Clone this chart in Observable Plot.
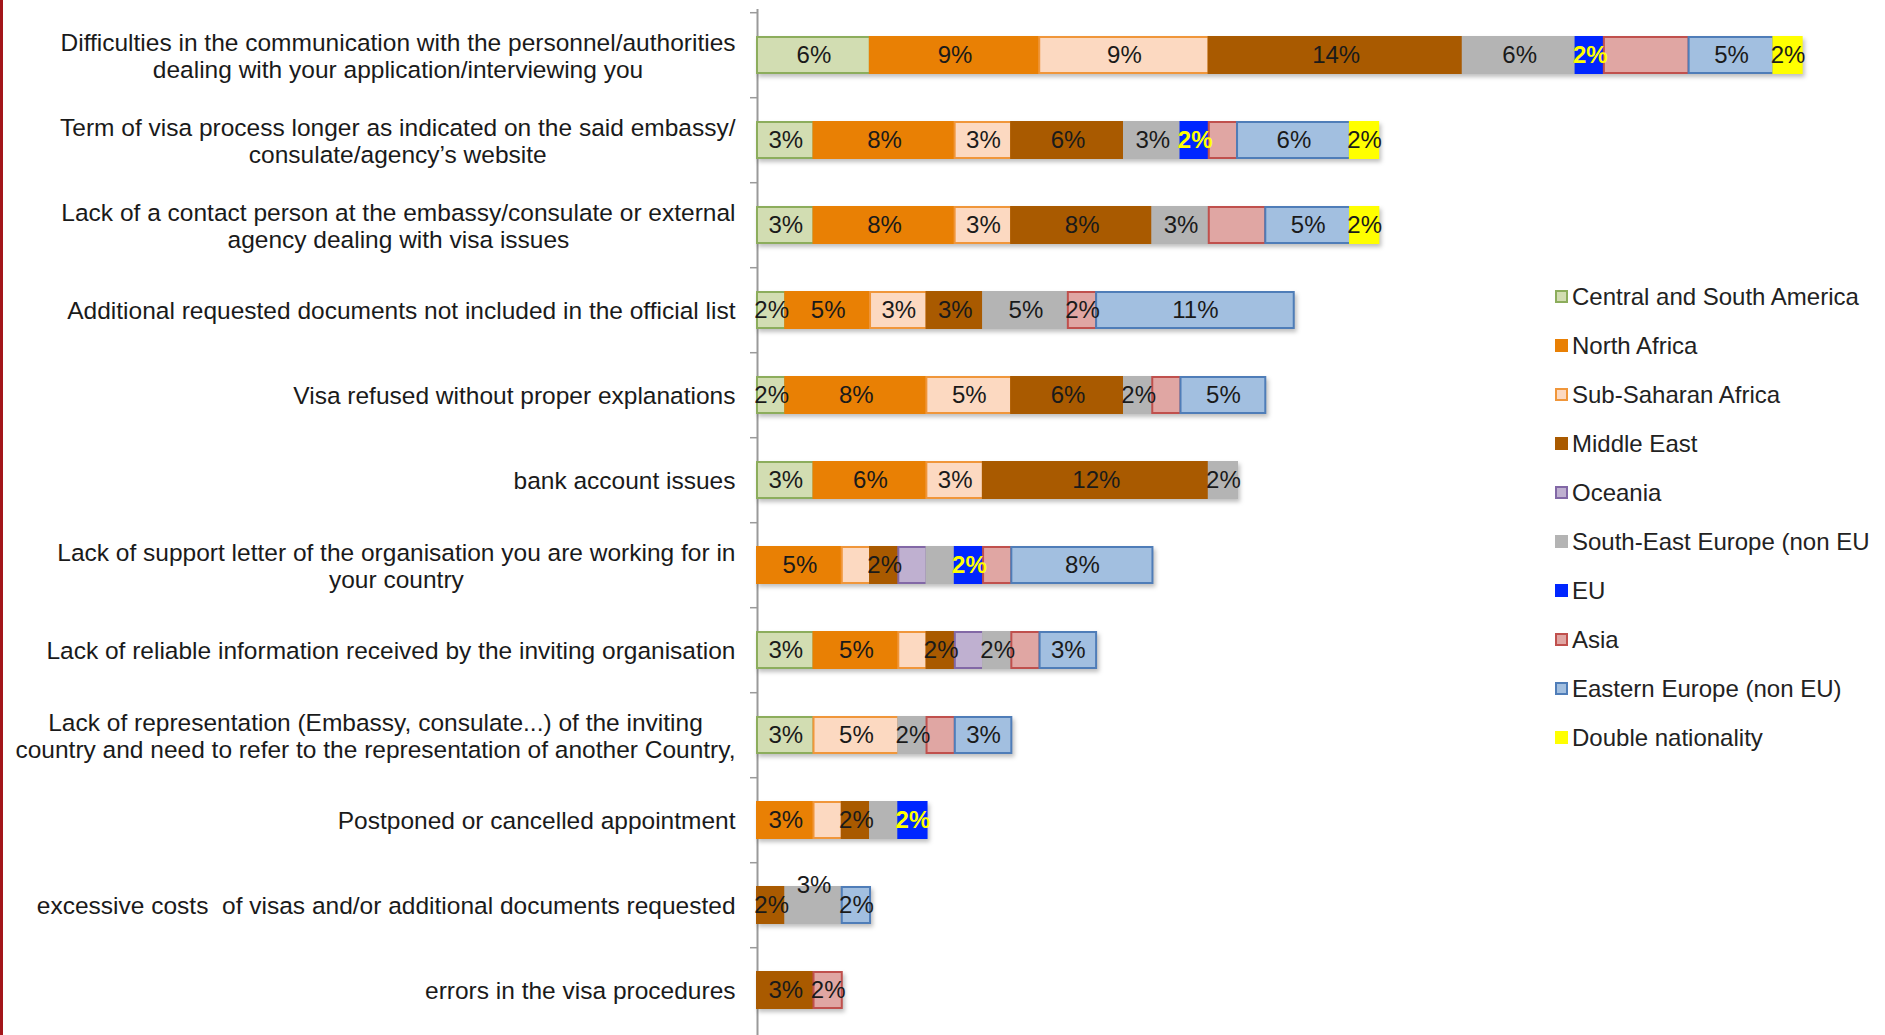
<!DOCTYPE html>
<html><head><meta charset="utf-8">
<script src="https://cdn.jsdelivr.net/npm/d3@7"></script>
<script src="https://cdn.jsdelivr.net/npm/@observablehq/plot@0.6"></script>
<style>
html,body{margin:0;padding:0;background:#fff;width:1885px;height:1035px;overflow:hidden;}
#wrap{position:relative;width:1885px;height:1035px;overflow:hidden;}
#chart{position:absolute;left:0;top:0;}
#edge{position:absolute;left:0;top:0;width:3px;height:1035px;background:#a3161a;}
#legend{position:absolute;left:1555px;top:272px;font-family:"Liberation Sans",Arial,sans-serif;font-size:24px;color:#222;white-space:nowrap;}
.item{height:49px;display:flex;align-items:center;}
.sw{width:9px;height:9px;border:2px solid;margin-right:4px;box-sizing:content-box;}
svg text{white-space:pre;}
svg g[aria-label="bar"]{filter:drop-shadow(2px 3px 2px rgba(0,0,0,0.25));}
</style></head>
<body><div id="wrap"><div id="chart"></div><div id="legend"></div><div id="edge"></div></div>
<script>
// Categories (top to bottom)
const categories = [
  "Difficulties in the communication with the personnel/authorities\ndealing with your application/interviewing you",
  "Term of visa process longer as indicated on the said embassy/\nconsulate/agency\u2019s website",
  "Lack of a contact person at the embassy/consulate or external\nagency dealing with visa issues",
  "Additional requested documents not included in the official list",
  "Visa refused without proper explanations",
  "bank account issues",
  "Lack of support letter of the organisation you are working for in\nyour country",
  "Lack of reliable information received by the inviting organisation",
  "Lack of representation (Embassy, consulate...) of the inviting\ncountry and need to refer to the representation of another Country,",
  "Postponed or cancelled appointment",
  "excessive costs  of visas and/or additional documents requested",
  "errors in the visa procedures"
];
const regions = [
  "Central and South America", "North Africa", "Sub-Saharan Africa", "Middle East", "Oceania",
  "South-East Europe (non EU", "EU", "Asia", "Eastern Europe (non EU)", "Double nationality"
];
const fills   = ["#d2ddb2", "#e98004", "#fcd9c1", "#a95a00", "#bfb0d0", "#b4b4b4", "#0026ff", "#e0a6a3", "#a2bfe0", "#ffff00"];
const strokes = ["#8cad5c", "#e98004", "#f0963a", "#a95a00", "#8268a6", "#b4b4b4", "#0026ff", "#c0504d", "#4f7db8", "#ffff00"];

// Values in % of respondents, one list per region, in category order
const centralSouthAmerica = [6.15, 3.08, 3.08, 1.54, 1.54, 3.08, 0, 3.08, 3.08, 0, 0, 0];
const northAfrica         = [9.23, 7.69, 7.69, 4.62, 7.69, 6.15, 4.62, 4.62, 0, 3.08, 0, 0];
const subSaharanAfrica    = [9.23, 3.08, 3.08, 3.08, 4.62, 3.08, 1.54, 1.54, 4.62, 1.54, 0, 0];
const middleEast          = [13.85, 6.15, 7.69, 3.08, 6.15, 12.31, 1.54, 1.54, 0, 1.54, 1.54, 3.08];
const oceania             = [0, 0, 0, 0, 0, 0, 1.54, 1.54, 0, 0, 0, 0];
const southEastEurope     = [6.15, 3.08, 3.08, 4.62, 1.54, 1.54, 1.54, 1.54, 1.54, 1.54, 3.08, 0];
const eu                  = [1.54, 1.54, 0, 0, 0, 0, 1.54, 0, 0, 1.54, 0, 0];
const asia                = [4.62, 1.54, 3.08, 1.54, 1.54, 0, 1.54, 1.54, 1.54, 0, 0, 1.54];
const easternEurope       = [4.62, 6.15, 4.62, 10.77, 4.62, 0, 7.69, 3.08, 3.08, 0, 1.54, 0];
const doubleNationality   = [1.54, 1.54, 1.54, 0, 0, 0, 0, 0, 0, 0, 0, 0];
const seriesValues = [centralSouthAmerica, northAfrica, subSaharanAfrica, middleEast, oceania,
  southEastEurope, eu, asia, easternEurope, doubleNationality];

// Segments whose value label is not shown: [category index, region]
const unlabeled = [[0, "Asia"], [1, "Asia"], [2, "Asia"], [4, "Asia"],
  [6, "Sub-Saharan Africa"], [6, "Oceania"], [6, "South-East Europe (non EU"], [6, "Asia"],
  [7, "Sub-Saharan Africa"], [7, "Oceania"], [7, "Asia"], [8, "Asia"],
  [9, "Sub-Saharan Africa"], [9, "South-East Europe (non EU"]];
// Label drawn above its bar
const raisedLabel = [[10, "South-East Europe (non EU"]];

const rows = [];
categories.forEach((c, ci) => regions.forEach((r, ri) => {
  const v = seriesValues[ri][ci];
  if (v > 0) rows.push({category: c, region: r, value: v, ci, ri});
}));
const isIn = (list, d) => list.some(([ci, r]) => ci === d.ci && r === d.region);
const lab = d => Math.round(d.value) + "%";

const W = 1885, H = 1036, ML = 757, MR = 27, MT = 9, XMAX = 60;
const CAT_FONT = 24.5;
const step = (H - MT) / categories.length;
const pxPerUnit = (W - ML - MR) / XMAX;
const ctx = document.createElement("canvas").getContext("2d");
ctx.font = CAT_FONT + "px 'Liberation Sans'";
const catLabels = categories.map(c => {
  const w = d3.max(c.split("\n"), l => ctx.measureText(l).width);
  return {category: c, x: -(22 + w / 2) / pxPerUnit};
});

const plot = Plot.plot({
  width: W, height: H, marginLeft: ML, marginRight: MR, marginTop: MT, marginBottom: 0,
  x: {domain: [0, XMAX], axis: null},
  y: {domain: categories, paddingInner: 0.58, paddingOuter: 0.29, axis: null},
  color: {type: "identity"},
  style: {fontFamily: "'Liberation Sans', Arial, sans-serif", fontSize: "24px", color: "#1a1a1a", background: "white", overflow: "visible"},
  marks: [
    Plot.axisY({tickSize: 7, tickFormat: () => "", label: null, dy: -step / 2, stroke: "#9a9a9a", strokeWidth: 1.5}),
    Plot.ruleX([0], {stroke: "#9a9a9a", strokeWidth: 2}),
    Plot.barX(rows, Plot.stackX({x: "value", y: "category", fill: d => fills[d.ri], stroke: d => strokes[d.ri], strokeWidth: 2})),
    Plot.text(rows, Plot.stackX({x: "value", y: "category",
      text: d => (d.region !== "EU" && !isIn(unlabeled, d) && !isIn(raisedLabel, d)) ? lab(d) : "",
      fill: "#1a1a1a", fontSize: 24})),
    Plot.text(rows, Plot.stackX({x: "value", y: "category",
      text: d => (d.region === "EU") ? lab(d) : "",
      fill: "#ffff00", fontWeight: "bold", fontSize: 24})),
    Plot.text(rows, Plot.stackX({x: "value", y: "category",
      text: d => isIn(raisedLabel, d) ? lab(d) : "",
      fill: "#1a1a1a", fontSize: 24, dy: -20})),
    Plot.text(catLabels, {x: "x", y: "category", text: "category", textAnchor: "middle",
      lineHeight: 1.1, fontSize: CAT_FONT, fill: "#1a1a1a"})
  ]
});
document.getElementById("chart").appendChild(plot);

const legend = d3.select("#legend");
regions.forEach((r, i) => {
  const item = legend.append("div").attr("class", "item");
  item.append("span").attr("class", "sw").style("background", fills[i]).style("border-color", strokes[i]);
  item.append("span").text(r);
});
</script>
</body></html>
